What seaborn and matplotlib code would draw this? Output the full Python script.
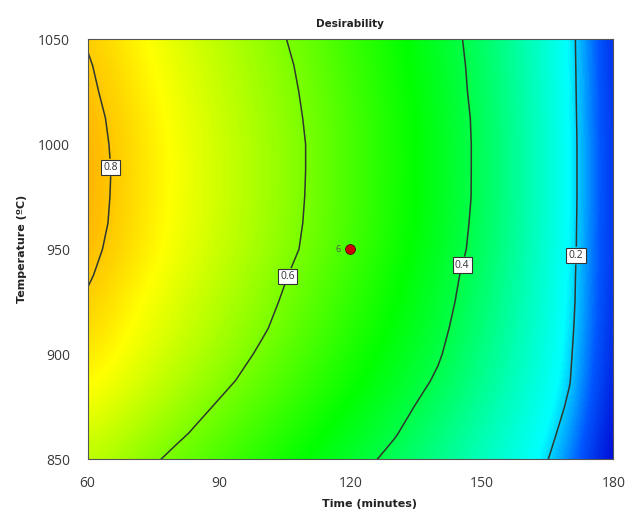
import matplotlib
matplotlib.use("Agg")
import matplotlib.pyplot as plt
import numpy as np
import pandas as pd
import seaborn as sns
from matplotlib.colors import LinearSegmentedColormap

# design space
times = [60, 70, 80, 90, 100, 110, 120, 130, 140, 150, 160, 170, 180]
temps = [850, 862.5, 875, 887.5, 900, 912.5, 925, 937.5, 950, 962.5,
		 975, 987.5, 1000, 1012.5, 1025, 1037.5, 1050]

# desirability estimated at each node, one row per temperature (low -> high)
d_850 = [0.674, 0.629, 0.586, 0.546, 0.506, 0.467, 0.427, 0.383, 0.333, 0.282, 0.232, 0.170, 0.088]
d_862 = [0.703, 0.658, 0.613, 0.571, 0.529, 0.488, 0.446, 0.405, 0.352, 0.298, 0.243, 0.182, 0.092]
d_875 = [0.728, 0.683, 0.638, 0.593, 0.551, 0.508, 0.465, 0.423, 0.372, 0.314, 0.255, 0.193, 0.097]
d_887 = [0.752, 0.707, 0.662, 0.617, 0.572, 0.528, 0.483, 0.439, 0.392, 0.329, 0.265, 0.202, 0.101]
d_900 = [0.768, 0.724, 0.679, 0.635, 0.590, 0.544, 0.498, 0.452, 0.406, 0.342, 0.274, 0.206, 0.105]
d_912 = [0.783, 0.739, 0.695, 0.650, 0.606, 0.559, 0.511, 0.464, 0.416, 0.353, 0.281, 0.210, 0.108]
d_925 = [0.793, 0.749, 0.705, 0.661, 0.617, 0.570, 0.521, 0.473, 0.424, 0.362, 0.287, 0.213, 0.110]
d_937 = [0.806, 0.761, 0.717, 0.672, 0.627, 0.580, 0.530, 0.480, 0.430, 0.369, 0.291, 0.214, 0.112]
d_950 = [0.815, 0.771, 0.726, 0.682, 0.638, 0.592, 0.541, 0.489, 0.438, 0.379, 0.297, 0.216, 0.113]
d_962 = [0.821, 0.776, 0.731, 0.686, 0.642, 0.596, 0.545, 0.493, 0.441, 0.383, 0.300, 0.217, 0.113]
d_975 = [0.823, 0.778, 0.733, 0.689, 0.644, 0.598, 0.547, 0.495, 0.443, 0.386, 0.302, 0.218, 0.113]
d_987 = [0.824, 0.779, 0.734, 0.689, 0.644, 0.599, 0.547, 0.495, 0.444, 0.386, 0.302, 0.218, 0.113]
d_1000 = [0.822, 0.777, 0.733, 0.688, 0.644, 0.599, 0.547, 0.495, 0.444, 0.386, 0.302, 0.218, 0.113]
d_1012 = [0.818, 0.774, 0.729, 0.685, 0.641, 0.596, 0.545, 0.494, 0.442, 0.385, 0.301, 0.217, 0.112]
d_1025 = [0.811, 0.768, 0.724, 0.680, 0.637, 0.592, 0.541, 0.490, 0.439, 0.381, 0.299, 0.216, 0.111]
d_1037 = [0.805, 0.762, 0.718, 0.675, 0.632, 0.587, 0.537, 0.487, 0.437, 0.378, 0.297, 0.215, 0.111]
d_1050 = [0.796, 0.753, 0.710, 0.668, 0.625, 0.579, 0.531, 0.482, 0.433, 0.374, 0.294, 0.214, 0.110]

levels = [0.2, 0.4, 0.6, 0.8]

# design point
pt_time = [120]
pt_temp = [950]
pt_label = ["6"]

grid = np.array([d_850, d_862, d_875, d_887, d_900, d_912, d_925, d_937, d_950,
				 d_962, d_975, d_987, d_1000, d_1012, d_1025, d_1037, d_1050])

sns.set_style("white")
plt.rcParams['font.family'] = ['Open Sans', 'DejaVu Sans']

# blue -> cyan -> green -> yellow -> orange -> red
vmin, vmax = 0.09, 1.0
nodes = [(0.09, '#0000d0'), (0.15, '#0058ff'), (0.215, '#00ffff'), (0.47, '#00ff00'),
		 (0.74, '#ffff00'), (0.824, '#ffb000'), (1.0, '#ff0000')]
cmap = LinearSegmentedColormap.from_list(
	'de', [((v - vmin) / (vmax - vmin), c) for v, c in nodes])

fig = plt.figure(figsize=(6.26, 5.12), dpi=100)
ax = fig.add_axes([0.1398, 0.1029, 0.8399, 0.8203])

dt = (times[1] - times[0]) / 2
dT = (temps[1] - temps[0]) / 2
ax.imshow(grid, origin='lower', aspect='auto', cmap=cmap, vmin=vmin, vmax=vmax,
		  interpolation='bicubic',
		  extent=(times[0] - dt, times[-1] + dt, temps[0] - dT, temps[-1] + dT))

cs = ax.contour(times, temps, grid, levels=levels, colors='#2e382e', linewidths=1.1)
lab_pos = [(171.8, 947), (146.5, 942), (105.9, 937), (65.4, 989)]
labels = ax.clabel(cs, fmt='%.1f', fontsize=7.5, inline=True, inline_spacing=1, manual=lab_pos)
for t in labels:
	t.set_rotation(0)
	t.set_color('#333333')
	t.set_bbox(dict(boxstyle='square,pad=0.22', fc='white', ec='#333333', lw=0.8))

pts = pd.DataFrame({'time': pt_time, 'temp': pt_temp})
sns.scatterplot(data=pts, x='time', y='temp', ax=ax, s=50, color='#cc0000',
				edgecolor='#500000', linewidth=0.6, zorder=5, legend=False)
for x, y, s in zip(pt_time, pt_temp, pt_label):
	ax.text(x - 2.2, y, s, fontsize=6.5, color='#555555', ha='right', va='center')

ax.set_xlim(times[0], times[-1])
ax.set_ylim(temps[0], temps[-1])
ax.set_xticks([60, 90, 120, 150, 180])
ax.set_yticks([850, 900, 950, 1000, 1050])
ax.tick_params(axis='both', direction='out', width=0.8, color='#444444',
			   labelsize=10, labelcolor='#3a3a3a')
ax.tick_params(axis='x', length=7.7, pad=4.5)
ax.tick_params(axis='y', length=9, pad=3.6)
for sp in ax.spines.values():
	sp.set_color('#555555')
	sp.set_linewidth(0.8)

bold = ['Liberation Sans Narrow', 'DejaVu Sans']
ax.set_title('Desirability', fontsize=7.5, fontweight='bold', family=bold, color='#222222', pad=9)
ax.set_xlabel('Time (minutes)', fontsize=8, fontweight='bold', family=bold, color='#222222')
ax.set_ylabel('Temperature (ºC)', fontsize=8, fontweight='bold', family=bold, color='#222222')
ax.xaxis.set_label_coords(0.537, -0.094)
ax.yaxis.set_label_coords(-0.115, 0.5)

fig.savefig('out.png', dpi=100)
